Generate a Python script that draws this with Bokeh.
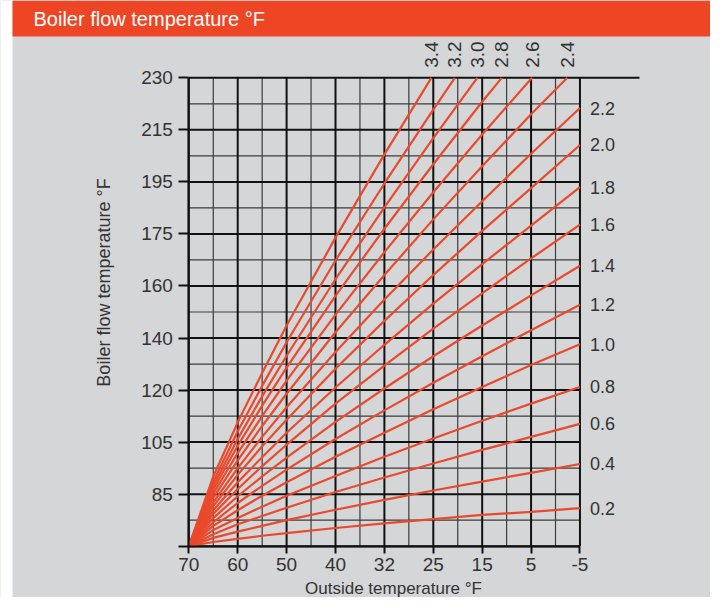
import math
from bokeh.plotting import figure
from bokeh.models import Range1d, FixedTicker, ColumnDataSource
from bokeh.embed import file_html
from bokeh.resources import INLINE
from bokeh.core.properties import value

# ---------------- data (evenly spaced scale positions, labels in °F) ----------------
x_tick_pos = [20, 15, 10, 5, 0, -5, -10, -15, -20]
x_tick_labels = ["70", "60", "50", "40", "32", "25", "15", "5", "-5"]
x_minor_pos = [17.5, 12.5, 7.5, 2.5, -2.5, -7.5, -12.5, -17.5]
y_tick_pos = [20, 30, 40, 50, 60, 70, 80, 90, 100, 110]
y_tick_labels = ["", "85", "105", "120", "140", "160", "175", "195", "215", "230"]
y_minor_pos = [25, 35, 45, 55, 65, 75, 85, 95, 105]

out_full = [20, 17.5, 15, 12.5, 10, 5, 0, -5, -10, -15, -20]
flow_0_2 = [20, 20.8, 21.4, 22.0, 22.5, 23.5, 24.4, 25.2, 26.0, 26.6, 27.3]
flow_0_4 = [20, 21.6, 22.8, 23.9, 25.0, 27.0, 28.9, 30.7, 32.4, 34.1, 35.8]
flow_0_6 = [20, 22.3, 24.2, 25.8, 27.4, 30.4, 33.2, 35.9, 38.5, 41.0, 43.5]
flow_0_8 = [20, 23.1, 25.4, 27.6, 29.7, 33.5, 37.2, 40.7, 44.1, 47.4, 50.6]
flow_1_0 = [20, 23.9, 26.9, 29.7, 32.3, 37.2, 41.8, 46.3, 50.6, 54.8, 58.8]
flow_1_2 = [20, 24.6, 28.3, 31.6, 34.7, 40.6, 46.1, 51.4, 56.5, 61.5, 66.4]
flow_1_4 = [20, 25.4, 29.6, 33.4, 37.0, 43.9, 50.3, 56.5, 62.4, 68.2, 73.9]
flow_1_6 = [20, 26.2, 31.0, 35.4, 39.5, 47.4, 54.7, 61.8, 68.6, 75.3, 81.8]
flow_1_8 = [20, 26.9, 32.3, 37.1, 41.8, 50.5, 58.7, 66.6, 74.2, 81.6, 89.0]
flow_2_0 = [20, 27.7, 33.7, 39.2, 44.3, 54.1, 63.3, 72.1, 80.6, 88.8, 97.1]
flow_2_2 = [20, 28.4, 35.0, 41.0, 46.7, 57.3, 67.4, 77.0, 86.3, 95.4, 104.2]

out_2_4 = [20, 17.5, 15, 12.5, 10, 5, 0, -5, -10, -15, -18.7]
flow_2_4 = [20, 29.3, 36.5, 43.1, 49.3, 61.1, 72.1, 82.8, 93.0, 103.0, 110]
out_2_6 = [20, 17.5, 15, 12.5, 10, 5, 0, -5, -10, -15.1]
flow_2_6 = [20, 30.1, 37.9, 45.0, 51.8, 64.5, 76.5, 88.0, 99.1, 110]
out_2_8 = [20, 17.5, 15, 12.5, 10, 5, 0, -5, -10, -12.0]
flow_2_8 = [20, 30.9, 39.3, 47.0, 54.3, 68.1, 81.0, 93.4, 105.4, 110]
out_3_0 = [20, 17.5, 15, 12.5, 10, 5, 0, -5, -9.5]
flow_3_0 = [20, 31.6, 40.6, 48.8, 56.6, 71.3, 85.1, 98.4, 110]
out_3_2 = [20, 17.5, 15, 12.5, 10, 5, 0, -5, -7.2]
flow_3_2 = [20, 32.4, 42.1, 50.8, 59.2, 74.9, 89.7, 103.9, 110]
out_3_4 = [20, 17.5, 15, 12.5, 10, 5, 0, -4.8]
flow_3_4 = [20, 33.4, 43.8, 53.3, 62.4, 79.3, 95.3, 110]

side_slopes = ["0.2", "0.4", "0.6", "0.8", "1.0", "1.2", "1.4", "1.6", "1.8", "2.0", "2.2"]
side_flows = [flow_0_2, flow_0_4, flow_0_6, flow_0_8, flow_1_0, flow_1_2,
              flow_1_4, flow_1_6, flow_1_8, flow_2_0, flow_2_2]
top_slopes = ["2.4", "2.6", "2.8", "3.0", "3.2", "3.4"]
top_outs = [out_2_4, out_2_6, out_2_8, out_3_0, out_3_2, out_3_4]
top_flows = [flow_2_4, flow_2_6, flow_2_8, flow_3_0, flow_3_2, flow_3_4]

title_text = "Boiler flow temperature °F"
x_title = "Outside temperature °F"
y_title = "Boiler flow temperature °F"

# ---------------- styles / layout ----------------
BG = "#d4d6d8"
ORANGE = "#ee4524"
CURVE = "#e9492c"
INK = "#111111"
MINOR = "#3c3c3c"
TXT = "#333333"
FONT = "Liberation Sans"

W, H = 710, 597
# the frame covers the whole canvas; ranges chosen so the grid sits at the right pixels
X_LEFT, X_RIGHT = 39.26, -33.35
Y_BOTTOM, Y_TOP = 10.14, 124.86
PX_X = W / (X_LEFT - X_RIGHT)     # pixels per x unit
PX_Y = H / (Y_TOP - Y_BOTTOM)     # pixels per y unit


def xd(px):
    return X_LEFT - px / PX_X


def yd(py):
    return Y_TOP - py / PX_Y


p = figure(width=W, height=H, x_range=Range1d(X_LEFT, X_RIGHT),
           y_range=Range1d(Y_BOTTOM, Y_TOP), output_backend="svg",
           toolbar_location=None, min_border=0)
p.title.text = ""
p.background_fill_color = BG
p.border_fill_color = BG
p.outline_line_color = None
p.grid.visible = False

x0, x1 = x_tick_pos[0], x_tick_pos[-1]
y0, y1 = y_tick_pos[0], y_tick_pos[-1]

# page strip and header band
p.quad(left=[X_LEFT], right=[xd(12)], top=[Y_TOP], bottom=[Y_BOTTOM],
       fill_color="white", line_color=None)
p.quad(left=[xd(12)], right=[X_RIGHT], top=[Y_TOP], bottom=[yd(36)],
       fill_color=ORANGE, line_color=None)
p.text(x=[xd(33)], y=[yd(18)], text=[title_text], text_color="white",
       text_font=value(FONT), text_font_size="20px", text_align="left",
       text_baseline="middle")

# grid
p.segment(x0=x_minor_pos, y0=[y0] * len(x_minor_pos), x1=x_minor_pos,
          y1=[y1] * len(x_minor_pos), line_color=MINOR, line_width=1.2)
p.segment(x0=[x0] * len(y_minor_pos), y0=y_minor_pos, x1=[x1] * len(y_minor_pos),
          y1=y_minor_pos, line_color=MINOR, line_width=1.2)
p.segment(x0=x_tick_pos, y0=[y0] * len(x_tick_pos), x1=x_tick_pos,
          y1=[y1] * len(x_tick_pos), line_color=INK, line_width=2)
p.segment(x0=[x0] * len(y_tick_pos), y0=y_tick_pos, x1=[x1] * len(y_tick_pos),
          y1=y_tick_pos, line_color=INK, line_width=2)
# top border line runs on past the grid
p.segment(x0=[x1], y0=[y1], x1=[xd(639)], y1=[y1], line_color=INK, line_width=2)

# axes pinned to the grid edges
xt = FixedTicker(ticks=x_tick_pos, minor_ticks=[])
yt = FixedTicker(ticks=y_tick_pos, minor_ticks=[])
p.xaxis.ticker = xt
p.yaxis.ticker = yt
p.xaxis.fixed_location = y0
p.yaxis.fixed_location = x0
p.xaxis.bounds = (x1, x0)
p.yaxis.bounds = (y0, y1)
p.xaxis.major_label_overrides = dict(zip(x_tick_pos, x_tick_labels))
p.yaxis.major_label_overrides = dict(zip(y_tick_pos, y_tick_labels))
for ax in (p.xaxis[0], p.yaxis[0]):
    ax.axis_line_color = INK
    ax.axis_line_width = 2
    ax.major_tick_line_color = INK
    ax.major_tick_line_width = 2
    ax.major_tick_in = 0
    ax.minor_tick_line_color = None
    ax.major_label_text_font = FONT
    ax.major_label_text_font_size = "19px"
    ax.major_label_text_color = TXT
p.yaxis.major_tick_out = 10
p.yaxis.major_label_standoff = 6
p.xaxis.major_tick_out = 7
p.xaxis.major_label_standoff = 5

# curves
for ys in side_flows:
    p.line(x=out_full, y=ys, line_color=CURVE, line_width=2.2)
for xs, ys in zip(top_outs, top_flows):
    p.line(x=xs, y=ys, line_color=CURVE, line_width=2.2)

# curve labels
side_src = ColumnDataSource(dict(x=[out_full[-1]] * len(side_flows),
                                 y=[f[-1] for f in side_flows], text=side_slopes))
p.text(x="x", y="y", text="text", source=side_src, x_offset=10,
       text_align="left", text_baseline="middle", text_font=value(FONT),
       text_font_size="18px", text_color=TXT)
top_src = ColumnDataSource(dict(x=[o[-1] for o in top_outs],
                                y=[f[-1] + 10 / PX_Y for f in top_flows], text=top_slopes))
p.text(x="x", y="y", text="text", source=top_src, angle=math.pi / 2,
       text_align="left", text_baseline="middle", text_font=value(FONT),
       text_font_size="19px", text_color=TXT)

# axis titles
p.text(x=[xd(103)], y=[yd(282)], text=[y_title], angle=math.pi / 2,
       text_align="center", text_baseline="middle", text_font=value(FONT),
       text_font_size="18px", text_color=TXT)
p.text(x=[xd(393)], y=[yd(588)], text=[x_title], text_align="center",
       text_baseline="middle", text_font=value(FONT), text_font_size="17px",
       text_color=TXT)

open("out.html", "w").write(file_html(p, INLINE))
